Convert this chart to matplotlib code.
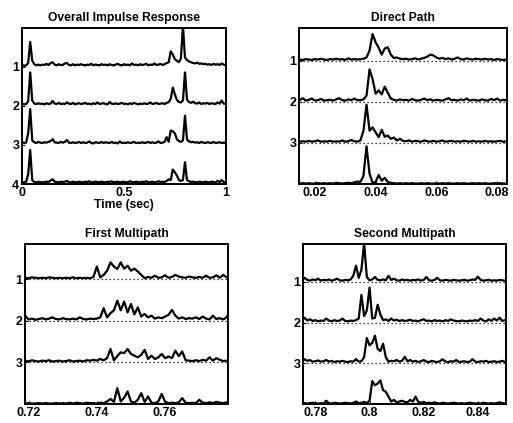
import numpy as np
import matplotlib
matplotlib.use('Agg')
import matplotlib.pyplot as plt

plt.rcParams['font.family'] = ['Liberation Sans', 'DejaVu Sans']
plt.rcParams['font.weight'] = 'bold'

# ---- data (amplitudes above each trace's baseline) ----
# overall impulse response, sampled every 0.01 s from 0 to 1
overall_t0, overall_dt = 0.0, 0.01
overall_1 = [0.05, 0.03, 0.04, 0.10, 0.64, 0.16, 0.07, 0.04, 0.06, 0.04,
             0.06, 0.05, 0.08, 0.05, 0.10, 0.12, 0.06, 0.04, 0.07, 0.05,
             0.05, 0.09, 0.10, 0.05, 0.04, 0.07, 0.04, 0.06, 0.05, 0.07,
             0.05, 0.04, 0.06, 0.05, 0.08, 0.04, 0.06, 0.05, 0.04, 0.07,
             0.05, 0.06, 0.04, 0.07, 0.05, 0.04, 0.06, 0.08, 0.05, 0.04,
             0.07, 0.05, 0.06, 0.04, 0.09, 0.05, 0.06, 0.04, 0.07, 0.05,
             0.06, 0.08, 0.04, 0.06, 0.05, 0.09, 0.05, 0.06, 0.08, 0.05,
             0.07, 0.10, 0.12, 0.40, 0.32, 0.20, 0.16, 0.12, 0.22, 1.05,
             0.24, 0.18, 0.14, 0.12, 0.10, 0.09, 0.11, 0.08, 0.09, 0.07,
             0.08, 0.06, 0.07, 0.05, 0.08, 0.06, 0.07, 0.05, 0.09, 0.06,
             0.04]
overall_2 = [0.06, 0.04, 0.05, 0.12, 0.86, 0.14, 0.06, 0.05, 0.07, 0.05,
             0.06, 0.04, 0.07, 0.05, 0.06, 0.13, 0.06, 0.05, 0.08, 0.05,
             0.06, 0.05, 0.09, 0.06, 0.05, 0.08, 0.04, 0.06, 0.07, 0.05,
             0.06, 0.08, 0.05, 0.06, 0.04, 0.07, 0.05, 0.09, 0.05, 0.06,
             0.07, 0.05, 0.04, 0.10, 0.06, 0.05, 0.07, 0.05, 0.06, 0.08,
             0.05, 0.06, 0.04, 0.07, 0.05, 0.08, 0.06, 0.04, 0.06, 0.05,
             0.07, 0.05, 0.06, 0.09, 0.05, 0.06, 0.08, 0.05, 0.06, 0.07,
             0.05, 0.08, 0.10, 0.18, 0.47, 0.30, 0.16, 0.10, 0.09, 0.14,
             0.86, 0.16, 0.10, 0.08, 0.11, 0.07, 0.06, 0.09, 0.05, 0.07,
             0.06, 0.08, 0.05, 0.07, 0.06, 0.05, 0.09, 0.06, 0.14, 0.06,
             0.05]
overall_3 = [0.08, 0.05, 0.06, 0.30, 0.92, 0.12, 0.07, 0.05, 0.08, 0.06,
             0.05, 0.07, 0.06, 0.08, 0.10, 0.15, 0.07, 0.06, 0.05, 0.08,
             0.06, 0.08, 0.13, 0.06, 0.05, 0.07, 0.05, 0.06, 0.08, 0.05,
             0.07, 0.05, 0.06, 0.09, 0.05, 0.04, 0.07, 0.06, 0.05, 0.08,
             0.05, 0.07, 0.06, 0.05, 0.08, 0.05, 0.06, 0.04, 0.09, 0.05,
             0.06, 0.05, 0.07, 0.05, 0.06, 0.08, 0.05, 0.06, 0.05, 0.07,
             0.05, 0.06, 0.08, 0.05, 0.07, 0.05, 0.06, 0.09, 0.05, 0.06,
             0.08, 0.20, 0.08, 0.37, 0.35, 0.30, 0.15, 0.10, 0.08, 0.12,
             0.75, 0.14, 0.09, 0.07, 0.08, 0.06, 0.07, 0.05, 0.08, 0.06,
             0.05, 0.07, 0.06, 0.05, 0.08, 0.05, 0.06, 0.07, 0.05, 0.06,
             0.05]
overall_4 = [0.05, 0.04, 0.06, 0.25, 0.87, 0.10, 0.05, 0.04, 0.06, 0.05,
             0.04, 0.05, 0.06, 0.05, 0.09, 0.12, 0.06, 0.05, 0.04, 0.06,
             0.05, 0.06, 0.08, 0.05, 0.04, 0.06, 0.05, 0.04, 0.06, 0.05,
             0.04, 0.06, 0.05, 0.07, 0.04, 0.05, 0.06, 0.05, 0.04, 0.06,
             0.05, 0.04, 0.06, 0.05, 0.07, 0.04, 0.05, 0.06, 0.04, 0.05,
             0.06, 0.04, 0.05, 0.07, 0.05, 0.04, 0.06, 0.05, 0.04, 0.06,
             0.05, 0.07, 0.04, 0.05, 0.06, 0.04, 0.05, 0.07, 0.05, 0.06,
             0.05, 0.08, 0.12, 0.10, 0.37, 0.30, 0.22, 0.10, 0.08, 0.10,
             0.56, 0.10, 0.07, 0.05, 0.06, 0.05, 0.04, 0.06, 0.05, 0.04,
             0.06, 0.05, 0.04, 0.06, 0.05, 0.04, 0.08, 0.05, 0.10, 0.05,
             0.04]

# direct path, sampled every 1 ms from 0.015 s
direct_t0, direct_dt = 0.015, 0.001
direct_1 = [0.03, 0.02, 0.04, 0.03, 0.02, 0.04, 0.03, 0.05, 0.03, 0.02,
            0.04, 0.03, 0.05, 0.03, 0.04, 0.02, 0.06, 0.03, 0.04, 0.03,
            0.04, 0.05, 0.08, 0.25, 0.65, 0.45, 0.32, 0.15, 0.30, 0.33,
            0.15, 0.07, 0.08, 0.05, 0.04, 0.05, 0.03, 0.04, 0.06, 0.03,
            0.05, 0.07, 0.10, 0.15, 0.13, 0.08, 0.05, 0.07, 0.04, 0.06,
            0.03, 0.05, 0.08, 0.04, 0.03, 0.06, 0.04, 0.03, 0.05, 0.04,
            0.03, 0.05, 0.03, 0.04, 0.02, 0.04, 0.03, 0.02, 0.03]
direct_2 = [0.04, 0.09, 0.03, 0.05, 0.08, 0.03, 0.04, 0.07, 0.03, 0.04,
            0.05, 0.03, 0.06, 0.09, 0.04, 0.03, 0.06, 0.04, 0.08, 0.04,
            0.04, 0.06, 0.15, 0.79, 0.55, 0.20, 0.28, 0.18, 0.37, 0.22,
            0.08, 0.05, 0.03, 0.06, 0.04, 0.05, 0.03, 0.07, 0.04, 0.03,
            0.05, 0.08, 0.04, 0.06, 0.03, 0.05, 0.04, 0.03, 0.06, 0.09,
            0.04, 0.05, 0.03, 0.06, 0.04, 0.08, 0.03, 0.05, 0.04, 0.03,
            0.06, 0.04, 0.03, 0.07, 0.04, 0.08, 0.03, 0.05, 0.04]
direct_3 = [0.03, 0.04, 0.03, 0.05, 0.03, 0.04, 0.06, 0.03, 0.04, 0.03,
            0.05, 0.03, 0.04, 0.03, 0.06, 0.03, 0.04, 0.07, 0.04, 0.03,
            0.06, 0.30, 0.93, 0.30, 0.38, 0.26, 0.14, 0.32, 0.15, 0.18,
            0.10, 0.13, 0.06, 0.10, 0.05, 0.04, 0.06, 0.03, 0.05, 0.04,
            0.03, 0.06, 0.04, 0.03, 0.05, 0.03, 0.04, 0.06, 0.03, 0.04,
            0.05, 0.03, 0.04, 0.03, 0.05, 0.04, 0.03, 0.05, 0.03, 0.04,
            0.03, 0.05, 0.03, 0.04, 0.03, 0.04, 0.05, 0.03, 0.04]
direct_4 = [0.01, 0.02, 0.01, 0.02, 0.01, 0.01, 0.02, 0.01, 0.02, 0.01,
            0.02, 0.01, 0.03, 0.02, 0.01, 0.02, 0.03, 0.02, 0.04, 0.06,
            0.05, 0.20, 0.92, 0.25, 0.03, 0.05, 0.22, 0.08, 0.15, 0.05,
            0.03, 0.02, 0.01, 0.02, 0.01, 0.02, 0.01, 0.02, 0.01, 0.01,
            0.02, 0.01, 0.02, 0.01, 0.01, 0.02, 0.01, 0.02, 0.01, 0.02,
            0.01, 0.01, 0.02, 0.01, 0.02, 0.01, 0.01, 0.02, 0.01, 0.02,
            0.01, 0.02, 0.01, 0.01, 0.02, 0.01, 0.02, 0.01, 0.01]

# first multipath, sampled every 1 ms from 0.719 s
first_t0, first_dt = 0.719, 0.001
first_1 = [0.03, 0.02, 0.04, 0.03, 0.02, 0.03, 0.02, 0.04, 0.03, 0.02,
           0.03, 0.02, 0.03, 0.02, 0.04, 0.02, 0.03, 0.02, 0.03, 0.02,
           0.05, 0.30, 0.04, 0.10, 0.20, 0.40, 0.30, 0.24, 0.40, 0.25,
           0.32, 0.20, 0.25, 0.18, 0.10, 0.02, 0.05, 0.03, 0.08, 0.03,
           0.04, 0.09, 0.03, 0.05, 0.10, 0.06, 0.04, 0.03, 0.06, 0.04,
           0.03, 0.05, 0.03, 0.08, 0.03, 0.04, 0.09, 0.03, 0.10, 0.04,
           0.03]
first_2 = [0.12, 0.03, 0.05, 0.02, 0.04, 0.06, 0.03, 0.05, 0.08, 0.04,
           0.03, 0.06, 0.04, 0.03, 0.05, 0.03, 0.08, 0.04, 0.03, 0.05,
           0.04, 0.05, 0.08, 0.30, 0.08, 0.18, 0.25, 0.48, 0.25, 0.46,
           0.20, 0.40, 0.15, 0.32, 0.10, 0.16, 0.08, 0.12, 0.05, 0.08,
           0.06, 0.10, 0.14, 0.26, 0.12, 0.05, 0.08, 0.04, 0.06, 0.05,
           0.08, 0.04, 0.10, 0.05, 0.03, 0.12, 0.04, 0.06, 0.03, 0.08,
           0.22]
first_3 = [0.04, 0.02, 0.05, 0.03, 0.02, 0.04, 0.03, 0.05, 0.02, 0.03,
           0.04, 0.02, 0.03, 0.05, 0.02, 0.03, 0.04, 0.02, 0.05, 0.04,
           0.06, 0.04, 0.08, 0.05, 0.10, 0.32, 0.05, 0.15, 0.24, 0.22,
           0.32, 0.20, 0.16, 0.12, 0.18, 0.30, 0.08, 0.16, 0.08, 0.12,
           0.20, 0.10, 0.14, 0.10, 0.28, 0.15, 0.26, 0.05, 0.04, 0.03,
           0.05, 0.03, 0.06, 0.04, 0.12, 0.04, 0.10, 0.06, 0.03, 0.04,
           0.03]
first_4 = [0.01, 0.02, 0.01, 0.01, 0.02, 0.01, 0.02, 0.01, 0.01, 0.02,
           0.01, 0.02, 0.01, 0.03, 0.01, 0.03, 0.02, 0.01, 0.03, 0.02,
           0.02, 0.01, 0.03, 0.02, 0.06, 0.12, 0.05, 0.38, 0.06, 0.15,
           0.30, 0.06, 0.03, 0.10, 0.26, 0.05, 0.18, 0.03, 0.02, 0.06,
           0.24, 0.05, 0.02, 0.03, 0.02, 0.04, 0.14, 0.03, 0.02, 0.03,
           0.02, 0.10, 0.03, 0.02, 0.04, 0.02, 0.05, 0.03, 0.02, 0.04,
           0.02]

# second multipath, sampled every 1 ms from 0.775 s
second_t0, second_dt = 0.775, 0.001
second_1 = [0.04, 0.10, 0.05, 0.03, 0.06, 0.04, 0.08, 0.03, 0.05, 0.04,
            0.06, 0.03, 0.05, 0.08, 0.04, 0.03, 0.05, 0.04, 0.06, 0.15,
            0.40, 0.10, 0.30, 0.95, 0.12, 0.04, 0.06, 0.12, 0.05, 0.04,
            0.06, 0.04, 0.15, 0.05, 0.08, 0.04, 0.03, 0.06, 0.04, 0.05,
            0.03, 0.05, 0.04, 0.06, 0.03, 0.05, 0.12, 0.04, 0.03, 0.05,
            0.10, 0.04, 0.03, 0.05, 0.04, 0.03, 0.05, 0.04, 0.03, 0.04,
            0.05, 0.03, 0.04, 0.06, 0.05, 0.13, 0.05, 0.03, 0.04, 0.05,
            0.03, 0.04, 0.03, 0.05, 0.04, 0.03]
second_2 = [0.04, 0.12, 0.05, 0.08, 0.04, 0.06, 0.03, 0.05, 0.04, 0.10,
            0.05, 0.03, 0.06, 0.04, 0.05, 0.10, 0.04, 0.03, 0.05, 0.04,
            0.06, 0.10, 0.68, 0.16, 0.30, 0.86, 0.10, 0.12, 0.44, 0.20,
            0.06, 0.08, 0.04, 0.10, 0.05, 0.07, 0.04, 0.06, 0.04, 0.05,
            0.07, 0.04, 0.05, 0.03, 0.06, 0.08, 0.04, 0.05, 0.03, 0.06,
            0.04, 0.05, 0.03, 0.06, 0.04, 0.08, 0.05, 0.04, 0.03, 0.05,
            0.04, 0.03, 0.05, 0.04, 0.06, 0.04, 0.10, 0.05, 0.03, 0.08,
            0.04, 0.10, 0.05, 0.12, 0.04, 0.06]
second_3 = [0.04, 0.10, 0.06, 0.08, 0.04, 0.05, 0.07, 0.04, 0.05, 0.08,
            0.04, 0.06, 0.03, 0.05, 0.04, 0.06, 0.04, 0.03, 0.05, 0.04,
            0.10, 0.04, 0.05, 0.15, 0.62, 0.44, 0.50, 0.68, 0.35, 0.30,
            0.48, 0.15, 0.04, 0.06, 0.05, 0.08, 0.04, 0.06, 0.16, 0.05,
            0.08, 0.04, 0.06, 0.03, 0.05, 0.08, 0.04, 0.03, 0.06, 0.04,
            0.03, 0.05, 0.10, 0.04, 0.03, 0.05, 0.04, 0.08, 0.03, 0.04,
            0.05, 0.03, 0.04, 0.10, 0.04, 0.03, 0.05, 0.04, 0.06, 0.03,
            0.04, 0.05, 0.03, 0.04, 0.06, 0.03]
second_4 = [0.01, 0.02, 0.01, 0.02, 0.03, 0.02, 0.01, 0.02, 0.01, 0.08,
            0.02, 0.01, 0.03, 0.02, 0.01, 0.02, 0.03, 0.02, 0.01, 0.03,
            0.06, 0.02, 0.03, 0.05, 0.02, 0.08, 0.56, 0.46, 0.50, 0.58,
            0.34, 0.30, 0.18, 0.06, 0.10, 0.04, 0.06, 0.08, 0.05, 0.04,
            0.10, 0.06, 0.18, 0.05, 0.03, 0.05, 0.02, 0.03, 0.02, 0.04,
            0.02, 0.01, 0.03, 0.02, 0.01, 0.02, 0.03, 0.02, 0.01, 0.02,
            0.01, 0.02, 0.03, 0.02, 0.01, 0.02, 0.01, 0.03, 0.02, 0.01,
            0.02, 0.01, 0.02, 0.04, 0.02, 0.01]

trace_labels = ['1', '2', '3', '4']


def draw_panel(ax, t0, dt, traces, title, xlim, ytop, xticks, xticklabels,
               nlabels, dotted):
    n = len(traces)
    for k, vals in enumerate(traces):
        base = n - 1 - k
        t = t0 + dt * np.arange(len(vals))
        if dotted and base > 0:
            ax.plot(xlim, [base, base], color='black', lw=0.9, ls=(0, (1, 2.2)))
        ax.plot(t, base + np.array(vals), color='black', lw=1.6)
    ax.set_xlim(xlim)
    ax.set_ylim(0, ytop)
    ax.set_yticks([n - 1 - k for k in range(nlabels)])
    ax.set_yticklabels(trace_labels[:nlabels])
    ax.set_xticks(xticks)
    ax.set_xticklabels(xticklabels)
    ax.set_title(title, fontsize=8.7, fontweight='bold', pad=5)
    ax.tick_params(direction='in', length=2, labelsize=9, pad=2)
    for s in ax.spines.values():
        s.set_linewidth(1.4)


fig = plt.figure(figsize=(5.13, 4.23), dpi=100)

ax1 = fig.add_axes([0.043, 0.565, 0.397, 0.369])
draw_panel(ax1, overall_t0, overall_dt,
           [overall_1, overall_2, overall_3, overall_4],
           'Overall Impulse Response', [0, 1], 4.0,
           [0, 0.5, 1], ['0', '0.5', '1'], 4, False)
ax1.set_xlabel('Time (sec)', fontsize=8.7, fontweight='bold', labelpad=0)

ax2 = fig.add_axes([0.583, 0.565, 0.405, 0.369])
draw_panel(ax2, direct_t0, direct_dt,
           [direct_1, direct_2, direct_3, direct_4],
           'Direct Path', [0.0148, 0.0832], 3.8,
           [0.02, 0.04, 0.06, 0.08], ['0.02', '0.04', '0.06', '0.08'], 3, True)

ax3 = fig.add_axes([0.049, 0.045, 0.396, 0.378])
draw_panel(ax3, first_t0, first_dt,
           [first_1, first_2, first_3, first_4],
           'First Multipath', [0.719, 0.7785], 3.84,
           [0.72, 0.74, 0.76], ['0.72', '0.74', '0.76'], 3, True)

ax4 = fig.add_axes([0.591, 0.045, 0.396, 0.378])
draw_panel(ax4, second_t0, second_dt,
           [second_1, second_2, second_3, second_4],
           'Second Multipath', [0.7755, 0.8505], 3.93,
           [0.78, 0.80, 0.82, 0.84], ['0.78', '0.8', '0.82', '0.84'], 3, True)

fig.savefig('out.png', dpi=100)
